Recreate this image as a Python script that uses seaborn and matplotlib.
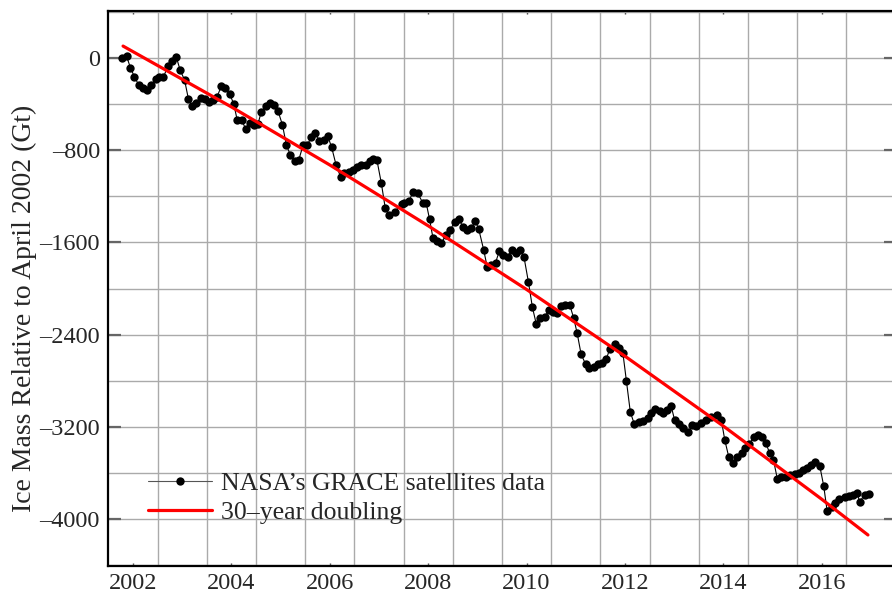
import matplotlib
matplotlib.use("Agg")
import matplotlib.pyplot as plt
import seaborn as sns
import pandas as pd

# GRACE monthly ice-mass anomalies (decimal year, Gt relative to April 2002)
grace_year = [
    2002.28, 2002.37, 2002.45, 2002.53, 2002.62, 2002.70, 2002.78, 2002.87, 2002.96, 2003.04,
    2003.12, 2003.21, 2003.29, 2003.38, 2003.46, 2003.55, 2003.63, 2003.71, 2003.79, 2003.88,
    2003.96, 2004.04, 2004.13, 2004.21, 2004.30, 2004.38, 2004.47, 2004.55, 2004.62, 2004.71,
    2004.79, 2004.87, 2004.97, 2005.04, 2005.11, 2005.20, 2005.28, 2005.37, 2005.45, 2005.54,
    2005.62, 2005.70, 2005.79, 2005.87, 2005.96, 2006.04, 2006.13, 2006.21, 2006.29, 2006.38,
    2006.46, 2006.54, 2006.63, 2006.72, 2006.80, 2006.89, 2006.97, 2007.06, 2007.14, 2007.23,
    2007.31, 2007.39, 2007.46, 2007.55, 2007.63, 2007.70, 2007.82, 2007.96, 2008.02, 2008.12,
    2008.19, 2008.29, 2008.39, 2008.46, 2008.53, 2008.60, 2008.68, 2008.77, 2008.86, 2008.95,
    2009.04, 2009.13, 2009.21, 2009.30, 2009.38, 2009.46, 2009.53, 2009.63, 2009.70, 2009.78,
    2009.87, 2009.95, 2010.03, 2010.12, 2010.20, 2010.29, 2010.37, 2010.45, 2010.54, 2010.62,
    2010.70, 2010.78, 2010.87, 2010.95, 2011.04, 2011.13, 2011.21, 2011.29, 2011.38, 2011.46,
    2011.53, 2011.61, 2011.70, 2011.78, 2011.87, 2011.95, 2012.03, 2012.12, 2012.19, 2012.29,
    2012.38, 2012.46, 2012.53, 2012.61, 2012.69, 2012.78, 2012.87, 2012.96, 2013.04, 2013.12,
    2013.21, 2013.27, 2013.36, 2013.44, 2013.51, 2013.60, 2013.69, 2013.79, 2013.87, 2013.95,
    2014.05, 2014.15, 2014.26, 2014.37, 2014.46, 2014.53, 2014.61, 2014.70, 2014.78, 2014.87,
    2014.95, 2015.03, 2015.12, 2015.20, 2015.29, 2015.36, 2015.44, 2015.52, 2015.60, 2015.68,
    2015.77, 2015.86, 2015.95, 2016.04, 2016.12, 2016.20, 2016.29, 2016.37, 2016.46, 2016.54,
    2016.61, 2016.70, 2016.78, 2016.86, 2016.97, 2017.05, 2017.13, 2017.22, 2017.27, 2017.37,
    2017.46,
]
grace_mass = [
    0, 15, -87, -165, -237, -265, -280, -237, -187, -165,
    -170, -72, -26, 9, -107, -193, -361, -419, -390, -352,
    -361, -381, -367, -338, -245, -265, -317, -401, -540, -540,
    -615, -569, -583, -577, -468, -419, -390, -410, -462, -583,
    -757, -843, -893, -887, -757, -757, -690, -655, -719, -713,
    -679, -777, -930, -1031, -1002, -988, -973, -945, -930, -930,
    -893, -878, -887, -1089, -1305, -1363, -1334, -1268, -1262, -1239,
    -1161, -1175, -1256, -1256, -1401, -1565, -1586, -1609, -1536, -1493,
    -1421, -1398, -1470, -1493, -1479, -1413, -1487, -1666, -1811, -1797,
    -1777, -1673, -1710, -1725, -1666, -1695, -1666, -1730, -1946, -2163,
    -2310, -2258, -2250, -2186, -2201, -2210, -2152, -2143, -2143, -2258,
    -2388, -2570, -2654, -2692, -2678, -2657, -2643, -2614, -2527, -2481,
    -2518, -2562, -2802, -3070, -3174, -3161, -3144, -3122, -3079, -3044,
    -3062, -3082, -3050, -3018, -3140, -3174, -3212, -3241, -3183, -3192,
    -3163, -3140, -3117, -3097, -3140, -3313, -3458, -3510, -3458, -3423,
    -3385, -3348, -3285, -3270, -3285, -3336, -3423, -3486, -3654, -3637,
    -3631, -3616, -3608, -3596, -3573, -3559, -3530, -3507, -3536, -3709,
    -3926, -3896, -3856, -3827, -3810, -3796, -3787, -3775, -3848, -3790,
    -3784,
]

# Accelerating-loss curve (loss rate doubling every 30 years)
doubling_year = [2002.30, 2004.5, 2006.5, 2008.5, 2010.5, 2012.5, 2014.5, 2016.5, 2017.44]
doubling_mass = [101, -426, -929, -1456, -2008, -2586, -3192, -3826, -4136]

year_ticks = [2002, 2004, 2006, 2008, 2010, 2012, 2014, 2016]
mass_ticks = [0, -800, -1600, -2400, -3200, -4000]

grace = pd.DataFrame({"year": grace_year, "mass": grace_mass})
doubling = pd.DataFrame({"year": doubling_year, "mass": doubling_mass})

sns.set_style("white")
plt.rcParams["font.family"] = ["Liberation Serif", "DejaVu Serif"]

fig = plt.figure(figsize=(8.92, 5.96), dpi=100)
ax = fig.add_axes([108.3 / 892, 30 / 596, 787.2 / 892, 555 / 596])

sns.lineplot(data=grace, x="year", y="mass", ax=ax, sort=False,
             color="black", linewidth=0.8, marker="o", markersize=6,
             markeredgewidth=0, label="NASA\u2019s GRACE satellites data", zorder=3)
sns.lineplot(data=doubling, x="year", y="mass", ax=ax, sort=False,
             color="red", linewidth=2.3, label="30\u2013year doubling", zorder=4)

ax.set_xlim(2002, 2018)
ax.set_ylim(-4405, 405)

# year labels sit at mid-year; grid lines at year boundaries
ax.set_xticks([y + 0.5 for y in year_ticks])
ax.set_xticklabels([str(y) for y in year_ticks])
ax.set_xticks(list(range(2003, 2018)), minor=True)
ax.set_yticks(mass_ticks)
ax.set_yticklabels([str(v).replace("-", "\u2013") for v in mass_ticks])
ax.set_yticks(list(range(-4400, 401, 400)), minor=True)

ax.grid(False)
ax.grid(which="minor", axis="x", color="#aaaaaa", linewidth=1.0)
ax.grid(which="both", axis="y", color="#aaaaaa", linewidth=1.0)
ax.set_axisbelow(True)

ax.tick_params(axis="y", which="major", direction="in", length=9, width=1.6,
               color="#666666", left=True, right=True, labelsize=17.5, pad=6)
ax.tick_params(axis="y", which="minor", length=0)
ax.tick_params(axis="x", which="major", direction="in", length=2.5, width=1.0,
               color="#444444", top=True, bottom=True, labelsize=17.5, pad=5)
ax.tick_params(axis="x", which="minor", length=0)

for side in ["left", "top", "bottom", "right"]:
    ax.spines[side].set_color("black")
    ax.spines[side].set_linewidth(1.6)

ax.set_xlabel("")
ax.set_ylabel("Ice Mass Relative to April 2002 (Gt)", fontsize=20)
ax.yaxis.set_label_coords(-0.091, 0.465)

leg = ax.legend(loc="center left", bbox_to_anchor=(0.0504, 0.1225), frameon=False,
                fontsize=18.5, handlelength=2.5, handletextpad=0.35,
                borderaxespad=0, borderpad=0, labelspacing=0.2)
leg.get_lines()[0].set_color("#555555")
leg.get_lines()[0].set_markerfacecolor("black")

fig.savefig("out.png", dpi=100)
